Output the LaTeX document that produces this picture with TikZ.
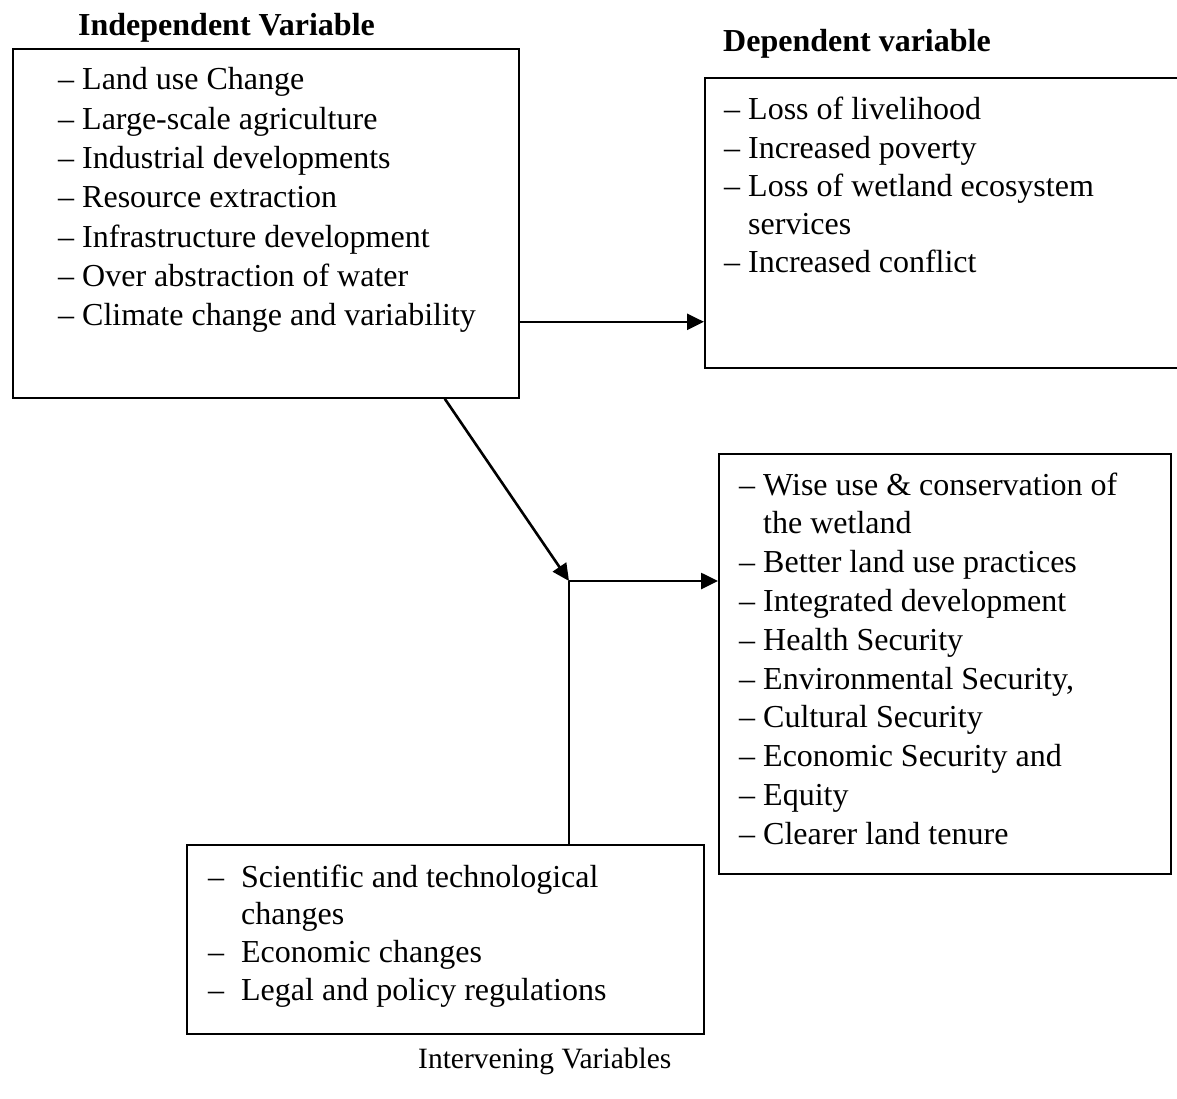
\documentclass[tikz,border=0pt]{standalone}
\usepackage{fontspec}
\setmainfont{Liberation Serif}
\usetikzlibrary{arrows.meta}

\newcommand{\itm}{\makebox[24pt][l]{\textendash}}
\newcommand{\ind}{\hspace*{24pt}}
\newcommand{\itmwide}{\makebox[33pt][l]{\textendash}}
\newcommand{\indwide}{\hspace*{33pt}}

\tikzset{
  box/.style={draw, line width=1.8pt, rectangle, inner sep=0pt, anchor=north west},
  item/.style={anchor=base west, inner sep=0pt, font=\fontsize{32}{39}\selectfont},
  heading/.style={anchor=base west, inner sep=0pt, font=\fontsize{32}{39}\selectfont\bfseries},
  link/.style={line width=2.6pt, -{Triangle[length=17pt,width=16pt]}},
  plainline/.style={line width=1.2pt}
}

\begin{document}
\begin{tikzpicture}[x=1pt, y=-1pt]
  \useasboundingbox (0,0) rectangle (1177,1099);
  \clip (0,0) rectangle (1177,1099);
  \fill[white] (0,0) rectangle (1177,1099);

  % headings
  \node[heading] (indeptitle) at (78,36) {Independent Variable};
  \node[heading] (deptitle) at (723,52) {Dependent variable};
  \node[anchor=base west, inner sep=0pt, font=\fontsize{29.5}{36}\selectfont] (intertitle) at (418,1068) {Intervening Variables};

  % boxes
  \node[box, minimum width=506pt, minimum height=349pt] (indep) at (12,48) {};
  \node[box, minimum width=520pt, minimum height=290pt] (dep) at (704,77) {};
  \node[box, minimum width=452pt, minimum height=420pt] (outcome) at (718,453) {};
  \node[box, minimum width=517pt, minimum height=189pt] (interv) at (186,844) {};

  % lists
  \foreach \txt [count=\i from 0] in {Land use Change, Large-scale agriculture,
      Industrial developments, Resource extraction, Infrastructure development,
      Over abstraction of water, Climate change and variability}
    \node[item] (iv\i) at (58, 90+39.3*\i) {\itm\txt};

  \foreach \txt [count=\i from 0] in {\itm Loss of livelihood, \itm Increased poverty,
      \itm Loss of wetland ecosystem, \ind services, \itm Increased conflict}
    \node[item] (dv\i) at (724, 120+38.2*\i) {\txt};

  \foreach \txt [count=\i from 0] in {\itm Wise use \& conservation of, \ind the wetland,
      \itm Better land use practices, \itm Integrated development, \itm Health Security,
      {\itm Environmental Security,}, \itm Cultural Security, \itm Economic Security and,
      \itm Equity, \itm Clearer land tenure}
    \node[item] (ov\i) at (739, 495+38.8*\i) {\txt};

  \foreach \txt [count=\i from 0] in {\itmwide Scientific and technological, \indwide changes,
      \itmwide Economic changes, \itmwide Legal and policy regulations}
    \node[item] (nv\i) at (208, 887+37.8*\i) {\txt};

  % connectors
  \coordinate (j) at (569,581);
  \coordinate (a) at ([yshift=77pt]indep.south east);
  \draw[link] (a) -- (a -| dep.west);
  \draw[link] ([xshift=-75pt]indep.south east) -- (j);
  \draw[link] (j) -- (j -| outcome.west);
  \draw[plainline] (j) -- (j |- interv.north);
\end{tikzpicture}
\end{document}
